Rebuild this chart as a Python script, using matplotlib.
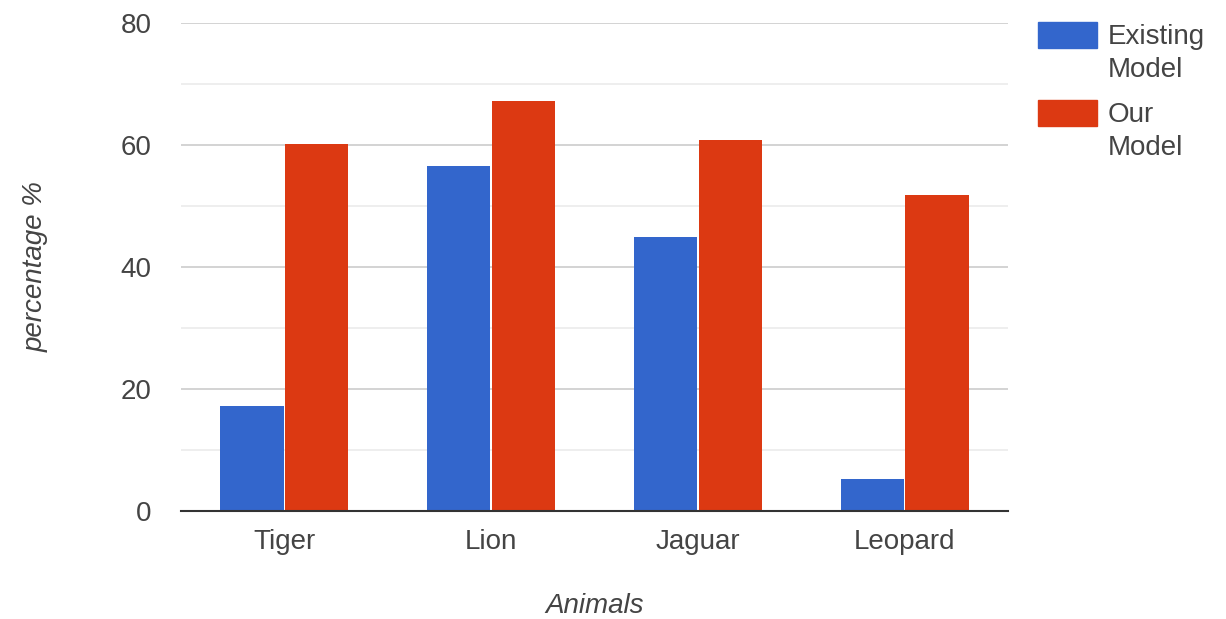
import numpy as np
import matplotlib.pyplot as plt
from matplotlib.patches import Rectangle

plt.rcParams['font.family'] = ['Liberation Sans', 'DejaVu Sans']

animals = ['Tiger', 'Lion', 'Jaguar', 'Leopard']
existing = [17.2, 56.5, 44.9, 5.2]
ours = [60.1, 67.2, 60.9, 51.8]
series_names = ['Existing\nModel', 'Our\nModel']

blue = '#3366cc'
red = '#dc3912'
text_col = '#444444'
fs = 20

W, H = 1226, 619
fig = plt.figure(figsize=(W / 100, H / 100), dpi=100)
ax = fig.add_axes([181 / W, (H - 511) / H, 827 / W, 488 / H])

x = np.arange(len(animals))
w = 0.305
ax.bar(x - w / 2 - 0.004, existing, w, color=blue, zorder=3)
ax.bar(x + w / 2 + 0.004, ours, w, color=red, zorder=3)

ax.set_xlim(-0.5, len(animals) - 0.5)
ax.set_ylim(0, 80)
ax.set_yticks([0, 20, 40, 60, 80])
ax.set_yticks([10, 30, 50, 70], minor=True)
ax.grid(axis='y', which='major', color='#cccccc', linewidth=1.2, zorder=0)
ax.grid(axis='y', which='minor', color='#ebebeb', linewidth=1.2, zorder=0)

for s in ['top', 'right', 'left']:
    ax.spines[s].set_visible(False)
ax.spines['bottom'].set_color('#333333')
ax.spines['bottom'].set_linewidth(1.5)
ax.spines['bottom'].set_zorder(4)

ax.set_xticks(x)
ax.set_xticklabels(animals)
ax.tick_params(axis='both', which='both', length=0, labelsize=fs, labelcolor=text_col)
ax.tick_params(axis='y', pad=21)
ax.tick_params(axis='x', pad=13)

ax.set_xlabel('Animals', fontsize=fs, style='italic', color=text_col, labelpad=27)
ax.set_ylabel('percentage %', fontsize=fs, style='italic', color=text_col, labelpad=52)

# legend drawn by hand so the swatch sits beside the first line of each label
for i, (name, col) in enumerate(zip(series_names, [blue, red])):
    top = 22 + 78 * i
    fig.add_artist(Rectangle((1038 / W, (H - top - 26) / H), 59 / W, 26 / H,
                             transform=fig.transFigure, color=col))
    fig.text(1108 / W, (H - top - 2) / H, name, fontsize=fs, color=text_col,
             va='top', ha='left', linespacing=1.33)

fig.savefig('out.png', dpi=100)
